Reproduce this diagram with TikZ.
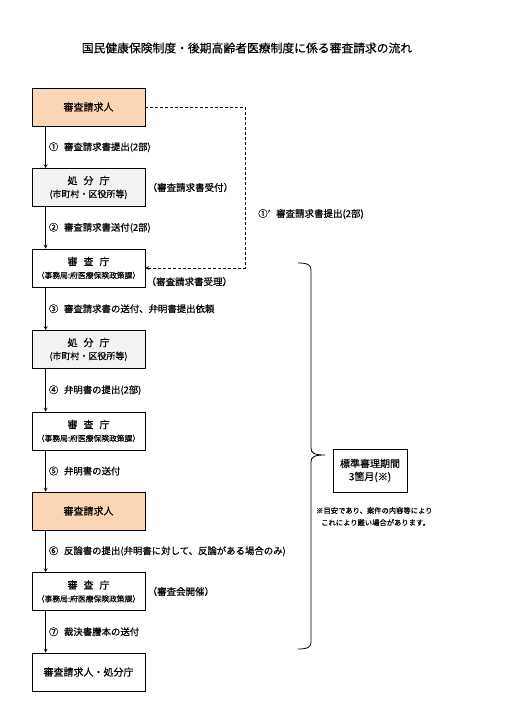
\documentclass[tikz,border=0pt]{standalone}
\usepackage{fontspec}
\setmainfont{Noto Sans CJK JP}[FakeBold=0.4]
\usetikzlibrary{positioning}
\definecolor{reqfill}{RGB}{252,213,180}
\definecolor{disfill}{RGB}{242,242,242}
\newcommand{\kgap}{\hspace{0.6em}}
\newcommand{\numgap}{\hspace{0.6em}}
\newcommand{\revsub}{{\fontsize{7.8}{9}\selectfont （事務局:府医療保険政策課）}}
\newcommand{\dissub}{{\fontsize{9}{10}\selectfont (市町村・区役所等)}}
\begin{document}
\begin{tikzpicture}[>=stealth,x=1pt,y=-1pt,
                        box/.style={draw,line width=0.8pt,minimum width=113pt,minimum height=38pt,
                            align=center,inner sep=1pt,font=\fontsize{10}{12}\selectfont},
                        reqbox/.style={box,fill=reqfill},
                        disbox/.style={box,fill=disfill},
                        flow/.style={->,line width=0.7pt},
                        steplabel/.style={right,xshift=2pt,inner sep=1pt,font=\fontsize{9.4}{11}\selectfont},
                        sidelabel/.style={inner sep=2pt,font=\fontsize{9.5}{11}\selectfont}]
                        \useasboundingbox (0,0) rectangle (527,701);
                        \node[font=\fontsize{11.8}{13}\selectfont] (title) at (247,48)
                            {国民健康保険制度・後期高齢者医療制度に係る審査請求の流れ};
                        \node[reqbox] (req1) at (88.5,107) {審査請求人};
                        \node[disbox] (dis1) at (88.5,187.5) {処\kgap 分\kgap 庁\\[1pt]\dissub};
                        \node[box] (rev1) at (88.5,268) {審\kgap 査\kgap 庁\\[1pt]\revsub};
                        \node[disbox] (dis2) at (88.5,349.5) {処\kgap 分\kgap 庁\\[1pt]\dissub};
                        \node[box] (rev2) at (88.5,431) {審\kgap 査\kgap 庁\\[1pt]\revsub};
                        \node[reqbox] (req2) at (88.5,511) {審査請求人};
                        \node[box] (rev3) at (88.5,591.5) {審\kgap 査\kgap 庁\\[1pt]\revsub};
                        \node[box] (fin) at (88.5,672) {審査請求人・処分庁};
                        \draw[flow] ([xshift=14pt]req1.south west) -- ([xshift=14pt]dis1.north west)
                            node[steplabel,midway] {①\numgap 審査請求書提出(2部)};
                        \draw[flow] ([xshift=14pt]dis1.south west) -- ([xshift=14pt]rev1.north west)
                            node[steplabel,midway] {②\numgap 審査請求書送付(2部)};
                        \draw[flow] ([xshift=14pt]rev1.south west) -- ([xshift=14pt]dis2.north west)
                            node[steplabel,midway] {③\numgap 審査請求書の送付、弁明書提出依頼};
                        \draw[flow] ([xshift=14pt]dis2.south west) -- ([xshift=14pt]rev2.north west)
                            node[steplabel,midway] {④\numgap 弁明書の提出(2部)};
                        \draw[flow] ([xshift=14pt]rev2.south west) -- ([xshift=14pt]req2.north west)
                            node[steplabel,midway] {⑤\numgap 弁明書の送付};
                        \draw[flow] ([xshift=14pt]req2.south west) -- ([xshift=14pt]rev3.north west)
                            node[steplabel,midway] {⑥\numgap 反論書の提出(弁明書に対して、反論がある場合のみ)};
                        \draw[flow] ([xshift=14pt]rev3.south west) -- ([xshift=14pt]fin.north west)
                            node[steplabel,midway] {⑦\numgap 裁決書謄本の送付};
                        \node[sidelabel,anchor=west] (recv) at (dis1.east) {（審査請求書受付）};
                        \node[sidelabel,anchor=south west,inner sep=1pt] (acpt) at (rev1.south east) {（審査請求書受理）};
                        \node[sidelabel,anchor=west] (meet) at (rev3.east) {（審査会開催）};
                        \coordinate (bend) at (245,0);
                        \draw[densely dashed,->,line width=0.6pt] (req1.east) -- (req1.east -| bend)
                            -- (rev1.east -| bend) -- (rev1.east);
                        \node[sidelabel,anchor=west] (direct) at (256,214) {①’\numgap 審査請求書提出(2部)};
                        \draw[line width=0.8pt] (298,263) .. controls (308,263) and (311,265) .. (311,270)
                            -- (311,448) .. controls (311,453) and (314,455) .. (325,455)
                            .. controls (314,455) and (311,457) .. (311,462)
                            -- (311,642) .. controls (311,647) and (308,649) .. (298,649);
                        \node[draw,line width=0.8pt,minimum width=74pt,minimum height=43pt,align=center,
                            font=\fontsize{10}{13}\selectfont] (period) at (370,470.5) {標準審理期間\\3箇月(※)};
                        \node[anchor=north west,align=left,inner sep=1pt,font=\fontsize{7.3}{12}\selectfont] (note)
                            at (315,506) {※目安であり、案件の内容等により\\\hspace*{5pt}これにより難い場合があります。};
                    \end{tikzpicture}
\end{document}
